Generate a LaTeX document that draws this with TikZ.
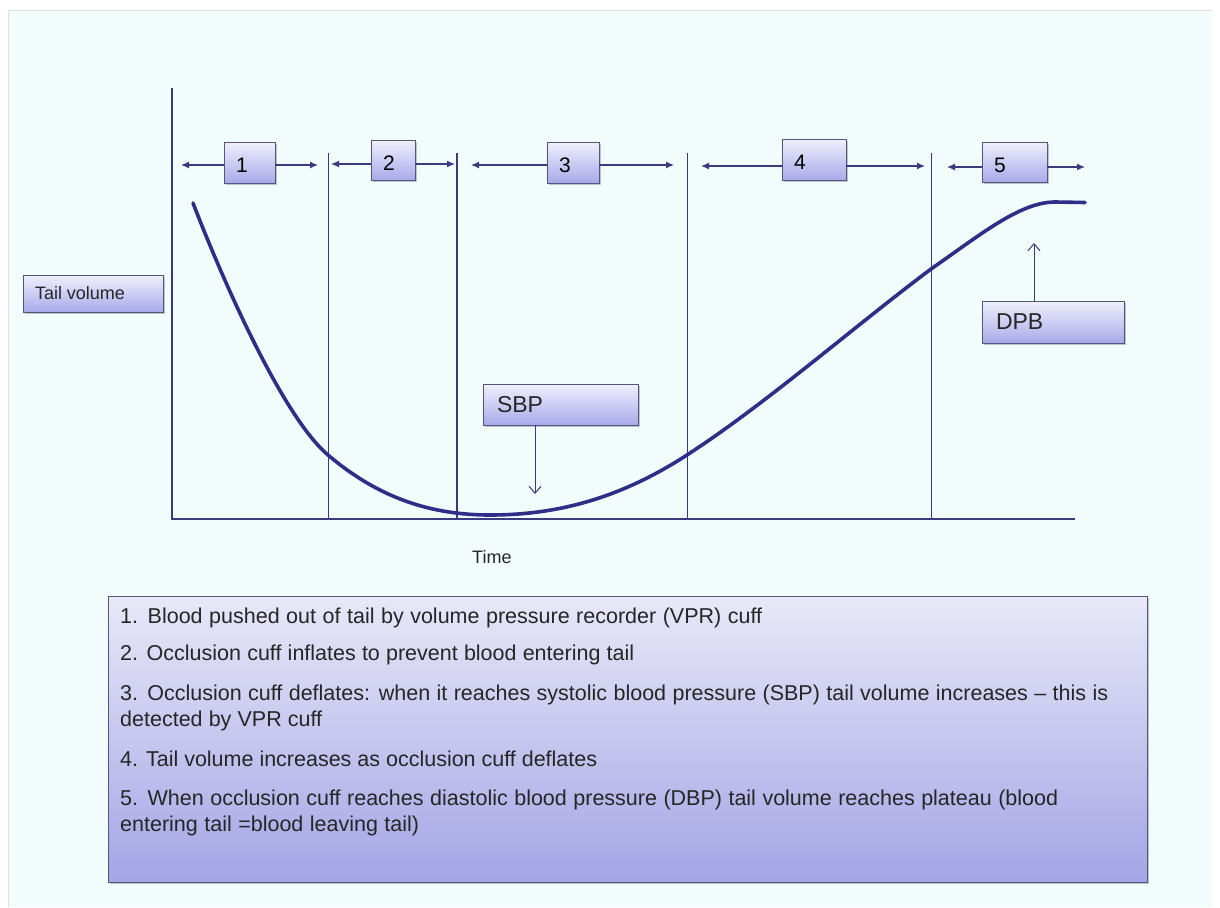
\documentclass[tikz,border=0pt]{standalone}
\usepackage{fontspec}
\setmainfont{Liberation Sans}
\usetikzlibrary{arrows.meta,shadows}
\definecolor{bgcyan}{HTML}{F2FCFD}
\definecolor{navy}{HTML}{3A3A7E}
\definecolor{curvecol}{HTML}{2E2E88}
\definecolor{boxtop}{HTML}{F0F0FD}
\definecolor{boxbot}{HTML}{A9A9EA}
\definecolor{boxedge}{HTML}{55557E}
\definecolor{notetop}{HTML}{E8E8F8}
\definecolor{notebot}{HTML}{A4A4E6}
\definecolor{ink}{HTML}{262626}
% number placed left in a fixed-width slot, set a little below centre
\newcommand{\phasenum}[2]{\raisebox{-3pt}[\height][\depth]{\makebox[#1][l]{#2}}}

\begin{document}
\begin{tikzpicture}[x=1pt,y=-1pt,
  axis/.style={draw=navy, line width=1.3pt},
  divider/.style={draw=navy, line width=1.1pt},
  span/.style={draw=navy, line width=1.3pt, -{Latex[length=8pt,width=7pt]}},
  pointer/.style={draw=navy, line width=1pt, -{Straight Barb[length=7pt,width=12pt]}},
  shadebox/.style={draw=boxedge, line width=0.9pt, top color=boxtop, bottom color=boxbot,
    drop shadow={shadow xshift=1.5pt, shadow yshift=-1.5pt, fill=black, opacity=0.22}},
  numbox/.style={shadebox, inner sep=0pt, font=\fontsize{21}{21}\selectfont, text=black},
  tagbox/.style={shadebox, inner sep=0pt, text=ink},
  notebox/.style={draw=boxedge, line width=0.9pt, top color=notetop, bottom color=notebot,
    drop shadow={shadow xshift=2pt, shadow yshift=-2pt, fill=black, opacity=0.22}},
  noteline/.style={anchor=base west, inner sep=0pt, text=ink, font=\fontsize{21.5}{21.5}\selectfont}
]

% page and slide background
\fill[white] (0,0) rectangle (1220,907);
\fill[bgcyan] (8,10) rectangle (1212,907);
\draw[gray!25, line width=0.8pt] (8,907) -- (8,10) -- (1212,10);

% axes
\coordinate (ytop) at (172,88);
\coordinate (o) at (172,519);
\coordinate (xend) at (1075,519);
\draw[axis] (ytop) -- (o) -- (xend);

% phase dividers
\foreach \n/\x in {2/328.5,3/457,4/687.5,5/931.5}{
  \coordinate (d\n t) at (\x,153);
  \coordinate (d\n b) at (\x,519);
  \draw[divider] (d\n t) -- (d\n b);
}

% tail volume curve
\draw[curvecol, line width=3.6pt, line cap=round]
  (193,203) .. controls (223,281) and (283,417) .. (328,455)
            .. controls (378,497.5) and (430,515) .. (490,515)
            .. controls (560,515) and (622,497) .. (687,455)
            .. controls (767,403) and (851,329) .. (931,269)
            .. controls (980,235) and (1020,202) .. (1055,202)
            -- (1085,202.5);

% phase number boxes
\node[numbox, minimum width=51pt, minimum height=41pt] (b1) at (249.5,162.5) {\phasenum{27pt}{1}};
\node[numbox, minimum width=44pt, minimum height=40pt] (b2) at (393,160) {\phasenum{20pt}{2}};
\node[numbox, minimum width=52pt, minimum height=41pt] (b3) at (573,162.5) {\phasenum{28pt}{3}};
\node[numbox, minimum width=64pt, minimum height=41pt] (b4) at (814,159.5) {\phasenum{40pt}{4}};
\node[numbox, minimum width=65pt, minimum height=40pt] (b5) at (1014.5,162) {\phasenum{41pt}{5}};

% phase extent arrows
\coordinate (a1l) at (181,165);  \coordinate (a1r) at (318,165);
\coordinate (a2l) at (331,164);  \coordinate (a2r) at (455,164);
\coordinate (a3l) at (471,165);  \coordinate (a3r) at (674,165);
\coordinate (a4l) at (701,166);  \coordinate (a4r) at (925,166);
\coordinate (a5l) at (947,167);  \coordinate (a5r) at (1085,167);
\foreach \n in {1,...,5}{
  \draw[span] (b\n.west |- a\n l) -- (a\n l);
  \draw[span] (b\n.east |- a\n r) -- (a\n r);
}

% labels
\node[tagbox, minimum width=140pt, minimum height=37pt,
  font=\fontsize{18}{18}\selectfont] (tv) at (93,293.5) {\makebox[116pt][l]{Tail volume}};
\node[tagbox, minimum width=155pt, minimum height=41pt,
  font=\fontsize{23}{23}\selectfont] (sbp) at (560.5,404.5) {\makebox[127pt][l]{SBP}};
\node[tagbox, minimum width=142pt, minimum height=42pt,
  font=\fontsize{23}{23}\selectfont] (dpb) at (1053,322) {\makebox[114pt][l]{DPB}};
\node[anchor=base west, inner sep=0pt, text=ink, font=\fontsize{18}{18}\selectfont] (time) at (472,563) {Time};

% pointers
\coordinate (sbptip) at (535,494);
\coordinate (dpbtip) at (1034,243);
\draw[pointer] (sbp.south -| sbptip) -- (sbptip);
\draw[pointer] (dpb.north -| dpbtip) -- (dpbtip);

% explanation panel
\node[notebox, minimum width=1039pt, minimum height=286pt, anchor=north west, inner sep=0pt] (notes) at (108,596) {};
\node[noteline] (n1) at (120,623) {\makebox[642pt][s]{1. Blood pushed out of tail by volume pressure recorder (VPR) cuff}};
\node[noteline] (n2) at (120,660) {\makebox[514pt][s]{2. Occlusion cuff inflates to prevent blood entering tail}};
\node[noteline] (n3) at (120,700) {\makebox[988pt][s]{3. Occlusion cuff deflates: when it reaches systolic blood pressure (SBP) tail volume increases – this is}};
\node[noteline] (n3b) at (120,726) {\makebox[202pt][s]{detected by VPR cuff}};
\node[noteline] (n4) at (120,766) {\makebox[477pt][s]{4. Tail volume increases as occlusion cuff deflates}};
\node[noteline] (n5) at (120,805) {\makebox[938pt][s]{5. When occlusion cuff reaches diastolic blood pressure (DBP) tail volume reaches plateau (blood}};
\node[noteline] (n5b) at (120,831) {\makebox[299pt][s]{entering tail =blood leaving tail)}};

\useasboundingbox (0,0) rectangle (1220,907);
\end{tikzpicture}
\end{document}
